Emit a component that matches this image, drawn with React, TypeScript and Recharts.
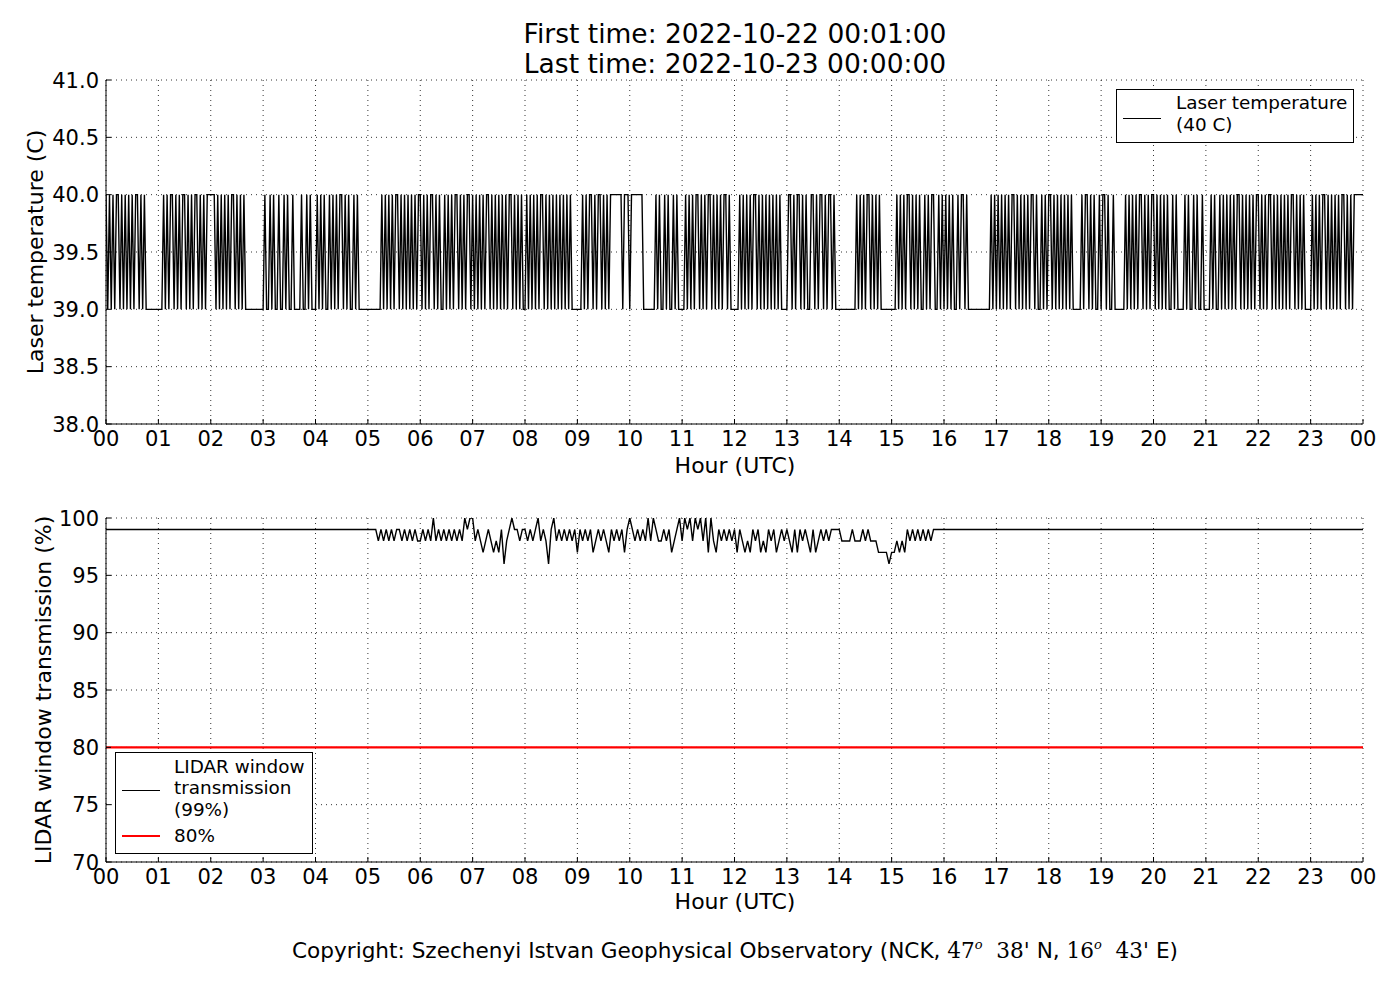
import React from 'react';
import { LineChart, Line, XAxis, YAxis, CartesianGrid, ReferenceLine } from 'recharts';

// hour ticks 00..24 (24 shown as 00)
const hourTicks = [0, 1, 2, 3, 4, 5, 6, 7, 8, 9, 10, 11, 12, 13, 14, 15, 16, 17, 18, 19, 20, 21, 22, 23, 24];
const tempTicks = [38, 38.5, 39, 39.5, 40, 40.5, 41];
const transTicks = [70, 75, 80, 85, 90, 95, 100];

// laser temperature, one string per hour, 2-minute samples: '1' = 40 C, '0' = 39 C
const laserHours = [
  '101010110101010101101010000000',
  '000101011010101101010110101011',
  '111010101010110101010000000000',
  '010010100100101001000010010100',
  '010101001010101101010010100000',
  '000000001010101011010101010101',
  '101010110101001010101101010110',
  '101010101101010101010110101010',
  '010101010110101010101010101000',
  '000101011010110101011111110111',
  '011111110000000101001010010100',
  '001010101101010110101010110100',
  '000101010101101010101010101000',
  '011010110101001101011010110100',
  '000000000010101011010101000000',
  '000101010110101010010101100101',
  '010101001011010000000000000101',
  '010101010110101010101101001010',
  '110101010101010000010110101001',
  '011010010000001010101011010101',
  '101010101001010000101001010010',
  '000101001010101010110101010101',
  '101010110101010101011010101000',
  '010101011010101010110101011111',
];
const laserEnd = 40;

// window transmission, one string per hour, 3-minute samples: digit d = 90 + d %, 'T' = 100 %
const windowHours = [
  '99999999999999999999',
  '99999999999999999999',
  '99999999999999999999',
  '99999999999999999999',
  '99999999999999999999',
  '99998989898998989898',
  '89898T89898989898T9T',
  'T89878987879689T9989',
  '98989T89869T89898989',
  '79898978989879898979',
  'T989898T8T988989789T',
  '8T9T8T9T8T7T87989898',
  '97987879897879897898',
  '98797989879789898999',
  '98888988898988877776',
  '77878798989898989999',
  '99999999999999999999',
  '99999999999999999999',
  '99999999999999999999',
  '99999999999999999999',
  '99999999999999999999',
  '99999999999999999999',
  '99999999999999999999',
  '99999999999999999999',
];
const windowEnd = 99;
const threshold = 80;

const laserData = [
  ...laserHours.flatMap((s, h) =>
    s.split('').map((c, i) => ({ t: h + i / s.length, v: c === '1' ? 40 : 39 }))
  ),
  { t: 24, v: laserEnd },
];

const windowData = [
  ...windowHours.flatMap((s, h) =>
    s.split('').map((c, i) => ({ t: h + i / s.length, v: c === 'T' ? 100 : 90 + Number(c) }))
  ),
  { t: 24, v: windowEnd },
];

const FONT = '"DejaVu Sans", sans-serif';
const MARK = 5;

const hourLabel = (v: number) => String(v % 24).padStart(2, '0');

const BottomTick = ({ x, y, payload }: any) => (
  <g>
    <line x1={x} x2={x} y1={y} y2={y - MARK} stroke="#000" />
    <text x={x} y={y + 7} dy="0.71em" textAnchor="middle" fontSize={21} fontFamily={FONT} fill="#000">
      {hourLabel(payload.value)}
    </text>
  </g>
);

const TopTick = ({ x, y }: any) => <line x1={x} x2={x} y1={y} y2={y + MARK} stroke="#000" />;

const RightTick = ({ x, y }: any) => <line x1={x} x2={x - MARK} y1={y} y2={y} stroke="#000" />;

const makeLeftTick = (fmt: (v: number) => string) => ({ x, y, payload }: any) => (
  <g>
    <line x1={x} x2={x + MARK} y1={y} y2={y} stroke="#000" />
    <text x={x - 7} y={y} dy="0.36em" textAnchor="end" fontSize={21} fontFamily={FONT} fill="#000">
      {fmt(payload.value)}
    </text>
  </g>
);

type PanelProps = {
  data: { t: number; v: number }[];
  domain: [number, number];
  ticks: number[];
  fmt: (v: number) => string;
  lineWidth: number;
  children?: React.ReactNode;
};

const Panel = ({ data, domain, ticks, fmt, lineWidth, children }: PanelProps) => (
  <LineChart width={1400} height={480} data={data} margin={{ top: 80, right: 37, bottom: 0, left: 0 }}>
    <CartesianGrid stroke="#000" strokeWidth={0.8} strokeDasharray="1 4" />
    <XAxis
      dataKey="t"
      type="number"
      domain={[0, 24]}
      ticks={hourTicks}
      height={56}
      tickSize={0}
      tickMargin={0}
      tick={BottomTick}
      tickLine={false}
      axisLine={{ stroke: '#000' }}
      allowDataOverflow
    />
    <XAxis
      xAxisId="top"
      orientation="top"
      dataKey="t"
      type="number"
      domain={[0, 24]}
      ticks={hourTicks}
      height={0}
      tickSize={0}
      tickMargin={0}
      tick={TopTick}
      tickLine={false}
      axisLine={{ stroke: '#000' }}
    />
    <YAxis
      type="number"
      domain={domain}
      ticks={ticks}
      width={106}
      tickSize={0}
      tickMargin={0}
      tick={makeLeftTick(fmt)}
      tickLine={false}
      axisLine={{ stroke: '#000' }}
      allowDataOverflow
    />
    <YAxis
      yAxisId="right"
      orientation="right"
      type="number"
      domain={domain}
      ticks={ticks}
      width={0}
      tickSize={0}
      tickMargin={0}
      tick={RightTick}
      tickLine={false}
      axisLine={{ stroke: '#000' }}
    />
    {children}
    <Line
      dataKey="v"
      type="linear"
      stroke="#000"
      strokeWidth={lineWidth}
      dot={false}
      activeDot={false}
      isAnimationActive={false}
    />
  </LineChart>
);

const abs = (s: React.CSSProperties): React.CSSProperties => ({ position: 'absolute', ...s });

const App = () => (
  <div style={abs({ left: 0, top: 0, width: 1400, height: 1000, background: '#fff', fontFamily: FONT, color: '#000' })}>
    <div style={abs({ left: 735, top: 19, transform: 'translateX(-50%)', fontSize: 26.5, lineHeight: '29.5px', textAlign: 'center', whiteSpace: 'nowrap' })}>
      <div>First time: 2022-10-22 00:01:00</div>
      <div>Last time: 2022-10-23 00:00:00</div>
    </div>

    <div style={abs({ left: 0, top: 0 })}>
      <Panel data={laserData} domain={[38, 41]} ticks={tempTicks} fmt={(v) => v.toFixed(1)} lineWidth={1.4} />
    </div>
    <div style={abs({ left: 0, top: 438 })}>
      <Panel data={windowData} domain={[70, 100]} ticks={transTicks} fmt={(v) => String(v)} lineWidth={1.4}>
        <ReferenceLine y={threshold} stroke="#ff0000" strokeWidth={2.3} />
      </Panel>
    </div>

    <div style={abs({ left: 36, top: 252, transform: 'translate(-50%, -50%) rotate(-90deg)', fontSize: 22, lineHeight: 1, whiteSpace: 'nowrap' })}>
      Laser temperature (C)
    </div>
    <div style={abs({ left: 44, top: 690, transform: 'translate(-50%, -50%) rotate(-90deg)', fontSize: 22, lineHeight: 1, whiteSpace: 'nowrap' })}>
      LIDAR window transmission (%)
    </div>
    <div style={abs({ left: 735, top: 466, transform: 'translate(-50%, -50%)', fontSize: 22, lineHeight: 1, whiteSpace: 'nowrap' })}>
      Hour (UTC)
    </div>
    <div style={abs({ left: 735, top: 902, transform: 'translate(-50%, -50%)', fontSize: 22, lineHeight: 1, whiteSpace: 'nowrap' })}>
      Hour (UTC)
    </div>

    {/* legend, top panel */}
    <div style={abs({ left: 1116, top: 89, width: 238, height: 54, border: '1px solid #000', boxSizing: 'border-box', background: '#fff' })}>
      <div style={abs({ left: 6, top: 27.5, width: 38, borderTop: '1.4px solid #000' })} />
      <div style={abs({ left: 59, top: 2, fontSize: 18.4, lineHeight: '21.5px', whiteSpace: 'nowrap' })}>
        <div>Laser temperature</div>
        <div>(40 C)</div>
      </div>
    </div>

    {/* legend, bottom panel */}
    <div style={abs({ left: 115, top: 752, width: 198, height: 102, border: '1px solid #000', boxSizing: 'border-box', background: '#fff' })}>
      <div style={abs({ left: 6, top: 37, width: 38, borderTop: '1.4px solid #000' })} />
      <div style={abs({ left: 58, top: 3, fontSize: 18.4, lineHeight: '21.3px', whiteSpace: 'nowrap' })}>
        <div>LIDAR window</div>
        <div>transmission</div>
        <div>(99%)</div>
      </div>
      <div style={abs({ left: 6, top: 81.5, width: 38, borderTop: '2.5px solid #ff0000' })} />
      <div style={abs({ left: 58, top: 72, fontSize: 18.4, lineHeight: '21.3px', whiteSpace: 'nowrap' })}>80%</div>
    </div>

    <div style={abs({ left: 735, top: 950, transform: 'translate(-50%, -50%)', fontSize: 21.6, lineHeight: 1, whiteSpace: 'nowrap' })}>
      Copyright: Szechenyi Istvan Geophysical Observatory (NCK,{' '}
      <span style={{ fontFamily: '"DejaVu Serif", serif' }}>
        47<sup style={{ fontSize: 13, fontStyle: 'italic' }}>o</sup>&nbsp;&nbsp;38'
      </span>{' '}
      N,{' '}
      <span style={{ fontFamily: '"DejaVu Serif", serif' }}>
        16<sup style={{ fontSize: 13, fontStyle: 'italic' }}>o</sup>&nbsp;&nbsp;43'
      </span>{' '}
      E)
    </div>
  </div>
);

export default App;
